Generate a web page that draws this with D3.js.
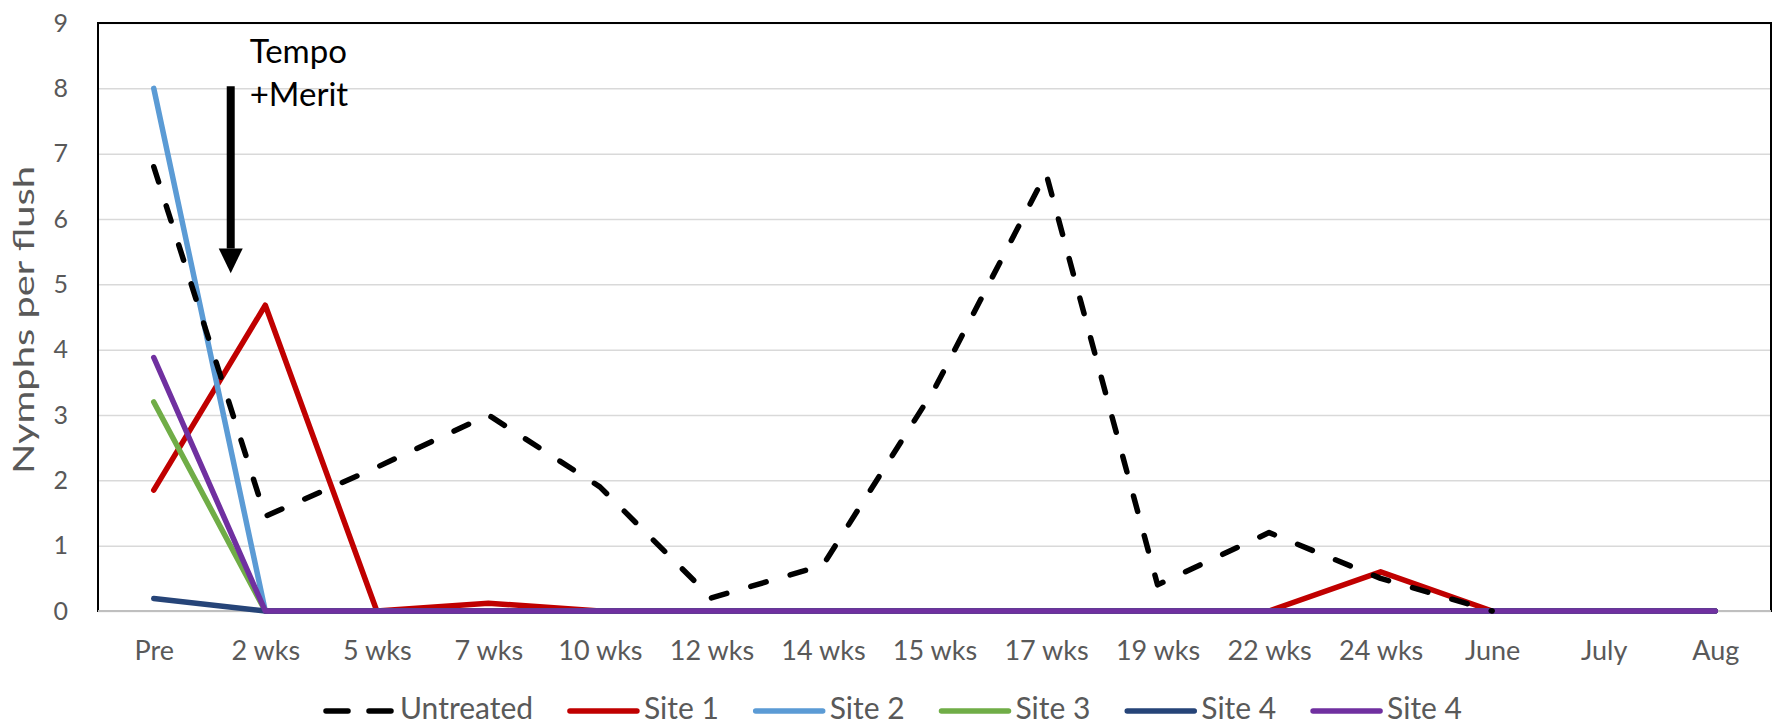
<!DOCTYPE html>
<html>
<head>
<meta charset="utf-8">
<script src="https://cdn.jsdelivr.net/npm/d3@7"></script>
<style>
  body { margin: 0; background: #fff; }
  text { font-family: Lato, 'Open Sans', sans-serif; }
</style>
</head>
<body>
<div id="chart"></div>
<script>
// Nymphs per flush: untreated vs treated sites, Tempo + Merit applied after "Pre"

var categories = ['Pre', '2 wks', '5 wks', '7 wks', '10 wks', '12 wks', '14 wks', '15 wks',
                  '17 wks', '19 wks', '22 wks', '24 wks', 'June', 'July', 'Aug'];
var untreated = [6.8, 1.45, 2.2, 3.0, 1.9, 0.2, 0.7, 3.4, 6.7, 0.4, 1.2, 0.5, 0, null, null];
var site1     = [1.85, 4.68, 0, 0.12, 0, 0, 0, 0, 0, 0, 0, 0.6, 0, 0, 0];
var site2     = [8.0, 0, 0, 0, 0, 0, 0, 0, 0, 0, 0, 0, 0, 0, 0];
var site3     = [3.2, 0, 0, 0, 0, 0, 0, 0, 0, 0, 0, 0, 0, 0, 0];
var site4a    = [0.19, 0, 0, 0, 0, 0, 0, 0, 0, 0, 0, 0, 0, 0, 0];
var site4b    = [3.88, 0, 0, 0, 0, 0, 0, 0, 0, 0, 0, 0, 0, 0, 0];
var yTicks = [0, 1, 2, 3, 4, 5, 6, 7, 8, 9];

var series = [
  {name: 'Site 1', values: site1, color: '#C00000'},
  {name: 'Site 2', values: site2, color: '#5B9BD5'},
  {name: 'Site 3', values: site3, color: '#70AD47'},
  {name: 'Site 4', values: site4a, color: '#264478'},
  {name: 'Site 4', values: site4b, color: '#7030A0'},
  {name: 'Untreated', values: untreated, color: '#000', dashed: true}
];
// legend order differs from draw order
var legendOrder = [5, 0, 1, 2, 3, 4];

var w = 1777;
var h = 725;
var margin = ({top: 23, right: 6, bottom: 114, left: 98});

var x = d3.scalePoint()
     .domain(categories)
     .range([margin.left, w - margin.right])
     .padding(0.5);

var y = d3.scaleLinear()
     .domain([0, 9])
     .range([h - margin.bottom, margin.top]);

var svg = d3.select('#chart')
     .append('svg')
     .attr('width', w)
     .attr('height', h);

// gridlines
svg.append('g')
     .attr('transform', 'translate(' + margin.left + ',0)')
     .call(d3.axisLeft(y).tickValues(yTicks).tickSize(-(w - margin.left - margin.right)).tickFormat(''))
     .call(g => g.select('.domain').remove())
     .call(g => g.selectAll('line').attr('stroke', '#D9D9D9').attr('stroke-width', 1.5));

// plot border
svg.append('rect')
     .attr('x', margin.left)
     .attr('y', margin.top)
     .attr('width', w - margin.left - margin.right)
     .attr('height', h - margin.top - margin.bottom)
     .attr('fill', 'none')
     .attr('stroke', '#000')
     .attr('stroke-width', 2);

// x axis line (gray)
svg.append('line')
     .attr('x1', margin.left).attr('x2', w - margin.right)
     .attr('y1', y(0)).attr('y2', y(0))
     .attr('stroke', '#BFBFBF')
     .attr('stroke-width', 2);

// y tick labels
svg.append('g')
     .attr('transform', 'translate(' + margin.left + ',0)')
     .call(d3.axisLeft(y).tickValues(yTicks).tickSize(0).tickPadding(30))
     .call(g => g.select('.domain').remove())
     .call(g => g.selectAll('text')
          .attr('font-family', 'Lato, sans-serif')
          .attr('font-size', 25)
          .attr('fill', '#595959'));

// x tick labels
svg.append('g')
     .attr('transform', 'translate(0,' + y(0) + ')')
     .call(d3.axisBottom(x).tickSize(0).tickPadding(30))
     .call(g => g.select('.domain').remove())
     .call(g => g.selectAll('text')
          .attr('font-family', 'Lato, sans-serif')
          .attr('font-size', 27)
          .attr('fill', '#595959'));

// y title
svg.append('text')
     .attr('transform', 'translate(34,' + 320 + ') rotate(-90)')
     .attr('text-anchor', 'middle')
     .attr('font-size', 28)
     .attr('fill', '#595959')
     .attr('textLength', 308)
     .attr('lengthAdjust', 'spacingAndGlyphs')
     .text('Nymphs per flush');

var line = d3.line()
     .defined(d => d != null)
     .x((d, i) => x(categories[i]))
     .y(d => y(d));

svg.selectAll('path.series')
     .data(series)
     .enter()
     .append('path')
     .attr('class', 'series')
     .attr('d', d => line(d.values))
     .attr('fill', 'none')
     .attr('stroke', d => d.color)
     .attr('stroke-width', 5.5)
     .attr('stroke-linejoin', 'round')
     .attr('stroke-linecap', 'round')
     .attr('stroke-dasharray', d => d.dashed ? '16,25' : null);

// treatment arrow
var ax = x('Pre') + (x('2 wks') - x('Pre')) * 0.69;
svg.append('line')
     .attr('x1', ax).attr('x2', ax)
     .attr('y1', y(8.03)).attr('y2', y(5.55))
     .attr('stroke', '#000')
     .attr('stroke-width', 8);
svg.append('path')
     .attr('d', 'M' + (ax - 12) + ',' + y(5.55) + 'L' + (ax + 12) + ',' + y(5.55) + 'L' + ax + ',' + y(5.17) + 'Z')
     .attr('fill', '#000');

var note = svg.append('text')
     .attr('font-size', 33)
     .attr('fill', '#000');
note.append('tspan').attr('x', ax + 19).attr('y', 63).text('Tempo');
note.append('tspan').attr('x', ax + 19).attr('y', 106).text('+Merit');

// legend: spread items between the reference's left and right ends
var legend = svg.append('g');
var lStart = 323, lEnd = 1462, ly = 711;
var items = legendOrder.map(function(k) {
  var s = series[k];
  var g = legend.append('g');
  g.append('line')
       .attr('x1', 3).attr('x2', 70)
       .attr('y1', ly).attr('y2', ly)
       .attr('stroke', s.color)
       .attr('stroke-width', 5.5)
       .attr('stroke-linecap', 'round')
       .attr('stroke-dasharray', s.dashed ? '22,21' : null);
  var t = g.append('text')
       .attr('x', 77)
       .attr('y', 719)
       .attr('font-size', 30)
       .attr('fill', '#595959')
       .text(s.name);
  return {g: g, wd: 77 + t.node().getComputedTextLength()};
});
var gap = (lEnd - lStart - d3.sum(items, d => d.wd)) / (items.length - 1);
var lx = lStart;
items.forEach(function(it) {
  it.g.attr('transform', 'translate(' + lx + ',0)');
  lx += it.wd + gap;
});
</script>
</body>
</html>
